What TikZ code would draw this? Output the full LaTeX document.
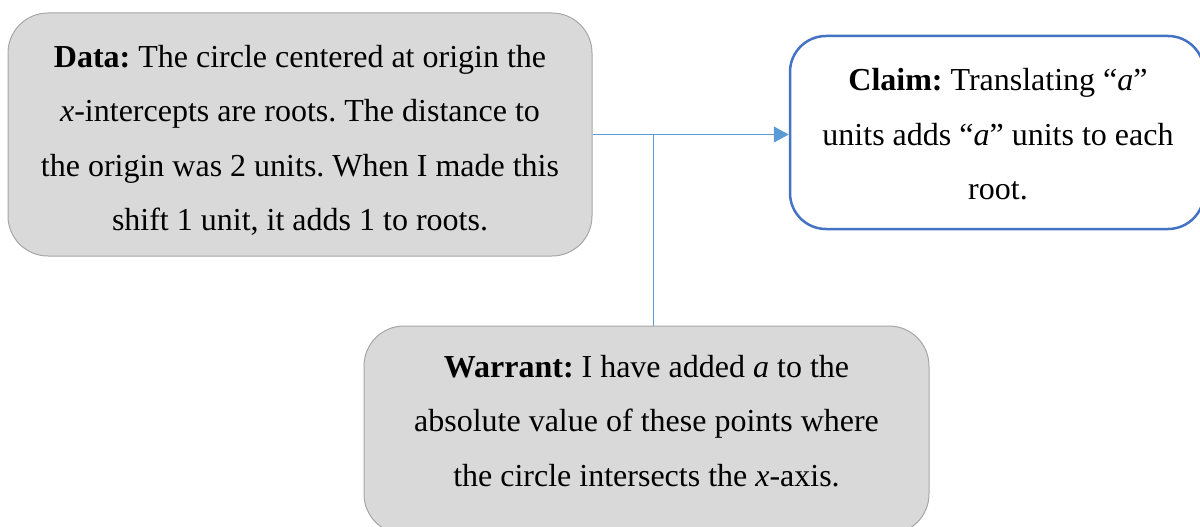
\documentclass[tikz,border=0pt]{standalone}
\usepackage{fontspec}
\setmainfont{Liberation Serif}
\usetikzlibrary{arrows.meta}
\definecolor{boxgray}{HTML}{D9D9D9}
\definecolor{edgegray}{HTML}{A6A6A6}
\definecolor{claimblue}{HTML}{4472C4}
\definecolor{linkblue}{HTML}{5B9BD5}
\tikzset{
  argtext/.style={align=center, inner sep=0pt,
    font={\fontsize{32}{54.5}\selectfont\frenchspacing}},
  graybox/.style={draw=edgegray, line width=1pt, fill=boxgray,
    rounded corners=40pt, inner sep=0pt},
  claimbox/.style={draw=claimblue, line width=2.5pt, fill=white,
    rounded corners=36pt, inner sep=0pt},
  link/.style={draw=linkblue, line width=1pt}
}
\begin{document}
\begin{tikzpicture}[x=1pt,y=-1pt]
\useasboundingbox (0,0) rectangle (1200,527);
% the three boxes
\node[graybox, minimum width=584pt, minimum height=243pt] (data) at (300,134.5) {};
\node[claimbox, minimum width=414pt, minimum height=193pt] (claim) at (997,132.5) {};
\node[graybox, minimum width=565pt, minimum height=208pt] (warrant) at (646.5,430) {};
% their texts
\node[argtext] (datatext) at (300,140.5)
  {\textbf{Data:} The circle centered at origin the\\
   \textit{x}-intercepts are roots. The distance to\\
   the origin was 2 units. When I made this\\
   shift 1 unit, it adds 1 to roots.};
\node[argtext] (claimtext) at (998,134.5)
  {\textbf{Claim:} Translating “\textit{a}”\\
   units adds “\textit{a}” units to each\\
   root.};
\node[argtext] (warranttext) at (646.5,421)
  {\textbf{Warrant:} I have added \textit{a} to the\\
   absolute value of these points where\\
   the circle intersects the \textit{x}-axis.};
% connectors
\coordinate (join) at (653,134.5);
\draw[link, -{Triangle[length=15pt,width=16pt]}] (data.east) -- (data.east -| claim.west);
\draw[link] (join) -- (join |- warrant.north);
\end{tikzpicture}
\end{document}
